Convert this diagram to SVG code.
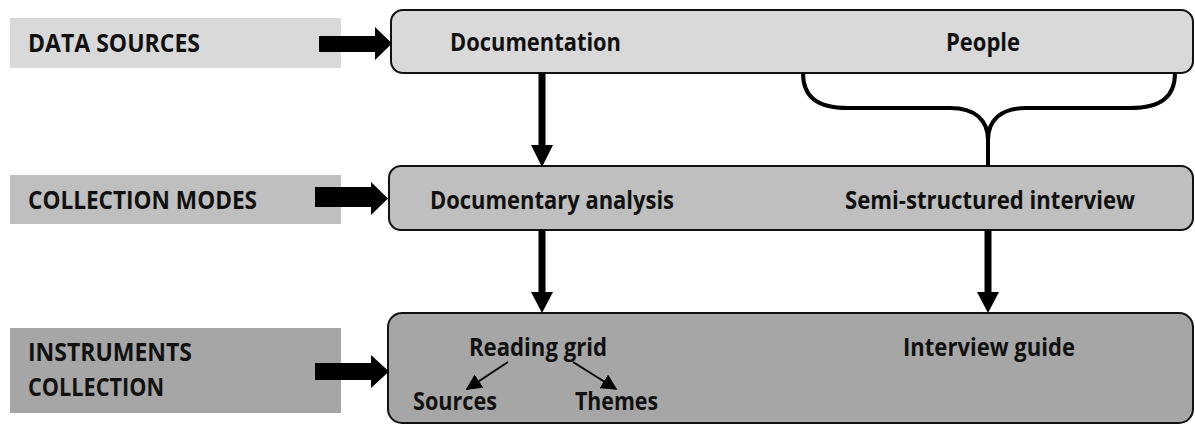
<svg xmlns="http://www.w3.org/2000/svg" width="1195" height="425" viewBox="0 0 1195 425">
  <defs>
    <style>
      text { font-family: "Open Sans", "Noto Sans", sans-serif; font-weight: bold; font-size: 25px; fill: #111; }
      .stage { stroke: none; }
      .box { stroke: #111; stroke-width: 2; }
      .l1 { fill: #d9d9d9; }
      .l2 { fill: #bfbfbf; }
      .l3 { fill: #a6a6a6; }
      .flow { stroke: #000; stroke-width: 7; fill: none; }
      .head { fill: #000; }
      .brace { stroke: #000; stroke-width: 4; fill: none; }
      .thin { stroke: #000; stroke-width: 2; fill: none; marker-end: url(#tip); }
    </style>
    <marker id="tip" viewBox="0 0 10 10" refX="9" refY="5" markerWidth="8" markerHeight="8" markerUnits="strokeWidth" orient="auto">
      <path d="M0,0 L10,5 L0,10 z" fill="#000"/>
    </marker>
  </defs>
  <rect width="1195" height="425" fill="#fff"/>

  <!-- stage labels -->
  <g id="label-data-sources">
    <rect class="stage l1" x="10" y="18" width="331" height="50"/>
    <text x="28" y="52" textLength="172" lengthAdjust="spacingAndGlyphs">DATA SOURCES</text>
  </g>
  <g id="label-collection-modes">
    <rect class="stage l2" x="10" y="175" width="331" height="49"/>
    <text x="28" y="209" textLength="229" lengthAdjust="spacingAndGlyphs">COLLECTION MODES</text>
  </g>
  <g id="label-instruments">
    <rect class="stage l3" x="10" y="328" width="331" height="85"/>
    <text x="28" y="361" textLength="164" lengthAdjust="spacingAndGlyphs">INSTRUMENTS</text>
    <text x="28" y="396" textLength="136" lengthAdjust="spacingAndGlyphs">COLLECTION</text>
  </g>

  <!-- stage rows -->
  <g id="row-sources">
    <rect class="box l1" x="391" y="10" width="802" height="63" rx="12"/>
    <text x="450" y="51" textLength="171" lengthAdjust="spacingAndGlyphs">Documentation</text>
    <text x="946" y="51" textLength="74" lengthAdjust="spacingAndGlyphs">People</text>
  </g>
  <g id="row-modes">
    <rect class="box l2" x="389" y="166" width="804" height="64" rx="12"/>
    <text x="430" y="209" textLength="244" lengthAdjust="spacingAndGlyphs">Documentary analysis</text>
    <text x="845" y="209" textLength="290" lengthAdjust="spacingAndGlyphs">Semi-structured interview</text>
  </g>
  <g id="row-instruments">
    <rect class="box l3" x="388" y="313" width="805" height="110" rx="14"/>
    <text x="469" y="356" textLength="138" lengthAdjust="spacingAndGlyphs">Reading grid</text>
    <text x="413" y="410" textLength="84" lengthAdjust="spacingAndGlyphs">Sources</text>
    <text x="575" y="410" textLength="83" lengthAdjust="spacingAndGlyphs">Themes</text>
    <text x="903" y="356" textLength="172" lengthAdjust="spacingAndGlyphs">Interview guide</text>
  </g>

  <!-- connectors -->
  <g id="connectors">
    <!-- block arrows from the stage labels -->
    <polygon class="head" points="319,36 375,36 375,27 392,43.5 375,60 375,52 319,52"/>
    <polygon class="head" points="315,187 371,187 371,182 388,198.5 371,215 371,207 315,207"/>
    <polygon class="head" points="315,363 371,363 371,355 389,371.5 371,388 371,380 315,380"/>

    <!-- Documentation to Documentary analysis -->
    <line class="flow" x1="542" y1="73" x2="542" y2="147"/>
    <polygon class="head" points="531,145 553,145 542,167"/>
    <!-- Documentary analysis to Reading grid -->
    <line class="flow" x1="542" y1="230" x2="542" y2="294"/>
    <polygon class="head" points="531,292 553,292 542,313"/>
    <!-- Semi-structured interview to Interview guide -->
    <line class="flow" x1="988" y1="230" x2="988" y2="294"/>
    <polygon class="head" points="977,292 999,292 988,313"/>

    <!-- brace grouping People into the interview mode -->
    <path class="brace" d="M803,73 C803,96 816,108 848,108 L950,108 C975,108 988,120 988,140 C988,120 1001,108 1026,108 L1130,108 C1162,108 1175,96 1175,73"/>
    <line class="brace" x1="988" y1="138" x2="988" y2="167"/>

    <!-- Reading grid branches -->
    <line class="thin" x1="508" y1="362" x2="467" y2="389"/>
    <line class="thin" x1="573" y1="362" x2="616" y2="389"/>
  </g>
</svg>
